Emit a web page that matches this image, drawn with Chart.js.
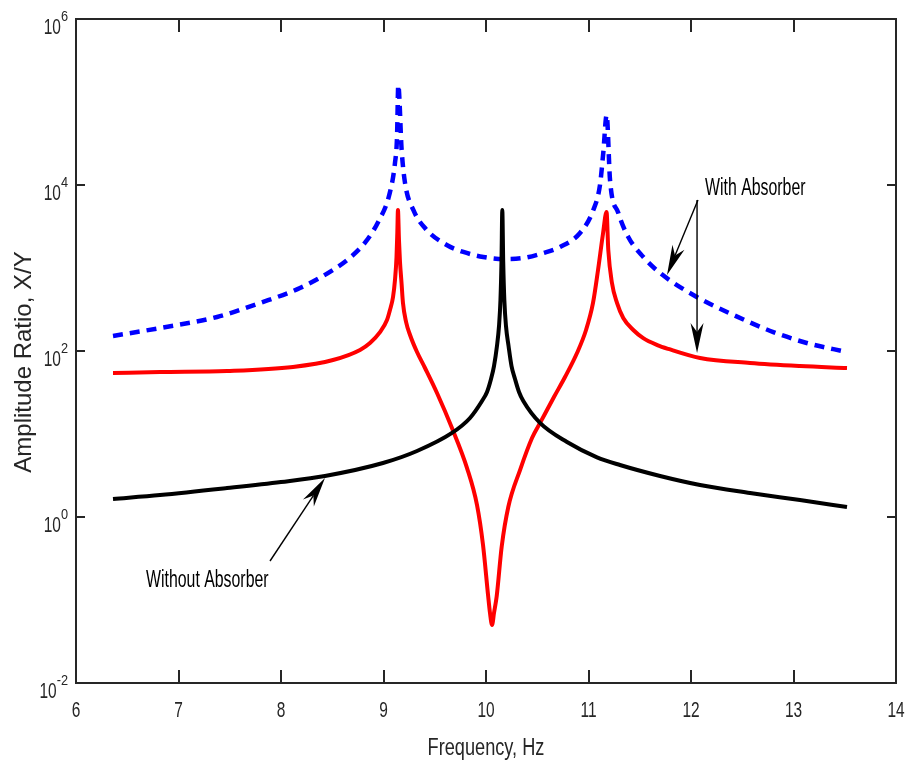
<!DOCTYPE html>
<html>
<head>
<meta charset="utf-8">
<title>Amplitude Ratio vs Frequency</title>
<script src="https://cdn.jsdelivr.net/npm/chart.js@4.4.1/dist/chart.umd.min.js"></script>
<style>
  html, body { margin: 0; padding: 0; background: #ffffff; }
  #wrap { width: 908px; height: 767px; }
</style>
</head>
<body>
<div id="wrap"><canvas id="chart" width="908" height="767"></canvas></div>
<script>
// Primary system alone (no absorber)
const blackFreq = [6.361, 6.820, 7.473, 8.000, 8.429, 8.995, 9.327, 9.668, 9.844, 9.961, 10.010, 10.049, 10.078, 10.107, 10.127, 10.141, 10.151, 10.159, 10.168, 10.179, 10.195, 10.220, 10.249, 10.283, 10.322, 10.364, 10.527, 10.790, 11.083, 11.307, 11.698, 12.088, 12.576, 13.063, 13.522];
const blackAmp  = [1.65, 1.84, 2.23, 2.64, 3.12, 4.47, 6.24, 10.3, 15.6, 25.0, 32.1, 46.0, 65.9, 115, 200, 411, 1181, 5000, 1181, 411, 200, 115, 65.9, 46.0, 32.1, 25.0, 13.6, 8.01, 5.24, 4.23, 3.12, 2.43, 1.95, 1.60, 1.32];

// Primary mass with absorber attached
const redFreq = [6.361, 6.820, 7.473, 8.117, 8.507, 8.771, 8.868, 8.966, 9.034, 9.063, 9.093, 9.112, 9.127, 9.135, 9.141, 9.151, 9.161, 9.176, 9.190, 9.220, 9.259, 9.327, 9.405, 9.522, 9.668, 9.815, 9.912, 9.971, 10.020, 10.039, 10.059, 10.078, 10.104, 10.153, 10.218, 10.332, 10.449, 10.537, 10.663, 10.771, 10.888, 10.976, 11.044, 11.093, 11.141, 11.176, 11.193, 11.229, 11.278, 11.339, 11.437, 11.534, 11.671, 11.778, 12.088, 12.576, 13.063, 13.522];
const redAmp  = [54.3, 55.8, 57.4, 64.2, 77.9, 103, 125, 169, 236, 312, 448, 716, 1358, 2716, 5000, 2174, 1181, 659, 379, 224, 156, 97.2, 62.4, 31.2, 11.8, 3.89, 1.40, 0.460, 0.115, 0.0697, 0.050, 0.0697, 0.110, 0.439, 1.33, 3.68, 8.95, 14.3, 27.9, 48.6, 94.6, 179, 379, 946, 2570, 4730, 1650, 659, 379, 250, 179, 143, 118, 106, 82.4, 71.7, 65.9, 62.4];

// Absorber mass
const blueFreq = [6.361, 6.820, 7.376, 7.795, 8.185, 8.507, 8.673, 8.827, 8.949, 9.056, 9.112, 9.132, 9.144, 9.177, 9.210, 9.291, 9.422, 9.617, 9.779, 9.974, 10.169, 10.364, 10.559, 10.722, 10.917, 11.047, 11.112, 11.144, 11.177, 11.210, 11.291, 11.388, 11.535, 11.698, 12.056, 12.413, 12.803, 13.129, 13.519];
const blueAmp  = [152, 189, 257, 379, 574, 946, 1331, 2075, 3613, 7580, 18400, 37900, 160000, 26400, 10570, 5000, 2870, 1893, 1560, 1358, 1283, 1320, 1517, 1791, 2641, 5000, 10000, 24300, 69700, 11500, 4600, 2362, 1358, 871, 448, 272, 169, 125, 97.2];

// Axis ticks
const xTickValues = [6, 7, 8, 9, 10, 11, 12, 13, 14];
const yTickExponents = [-2, 0, 2, 4, 6];

// Annotation labels and arrows (data coordinates)
const noteLabels = [
  { text: 'With Absorber', x: 12.137, y: 7600 },
  { text: 'Without Absorber', x: 6.683, y: 0.1435 }
];
const noteArrows = [
  { from: [12.068, 6590], to: [11.766, 824] },
  { from: [12.059, 6590], to: [12.059, 94.6] },
  { from: [7.893, 0.295], to: [8.429, 2.95] }
];

const toPoints = (xs, ys) => xs.map((v, i) => ({ x: v, y: ys[i] }));

const FONT = '"Liberation Sans", Arial, Helvetica, sans-serif';
const AXIS_COLOR = '#262626';

// Draw horizontally condensed text; returns the drawn width
function drawText(ctx, str, x, y, size, k, align) {
  ctx.save();
  ctx.font = size + 'px ' + FONT;
  const w = ctx.measureText(str).width * k;
  const x0 = align === 'center' ? x - w / 2 : align === 'right' ? x - w : x;
  ctx.translate(x0, y);
  ctx.scale(k, 1);
  ctx.textAlign = 'left';
  ctx.textBaseline = 'alphabetic';
  ctx.fillText(str, 0, 0);
  ctx.restore();
  return w;
}

function measure(ctx, str, size, k) {
  ctx.save();
  ctx.font = size + 'px ' + FONT;
  const w = ctx.measureText(str).width * k;
  ctx.restore();
  return w;
}

function drawArrow(ctx, x1, y1, x2, y2) {
  const L = 30, W = 13, notch = 9;
  const dx = x2 - x1, dy = y2 - y1;
  const len = Math.hypot(dx, dy);
  const ux = dx / len, uy = dy / len;
  const nx = -uy, ny = ux;
  ctx.beginPath();
  ctx.moveTo(x1, y1);
  ctx.lineTo(x2 - ux * (L - notch), y2 - uy * (L - notch));
  ctx.stroke();
  ctx.beginPath();
  ctx.moveTo(x2, y2);
  ctx.lineTo(x2 - ux * L + nx * W / 2, y2 - uy * L + ny * W / 2);
  ctx.lineTo(x2 - ux * (L - notch), y2 - uy * (L - notch));
  ctx.lineTo(x2 - ux * L - nx * W / 2, y2 - uy * L - ny * W / 2);
  ctx.closePath();
  ctx.fill();
}

const framePlugin = {
  id: 'frame',
  afterDraw(chart) {
    const { ctx, chartArea: a, scales } = chart;
    const xs = scales.x, ys = scales.y;
    ctx.save();

    // Box
    ctx.strokeStyle = AXIS_COLOR;
    ctx.lineWidth = 2;
    ctx.strokeRect(a.left, a.top, a.right - a.left, a.bottom - a.top);

    // Inward tick marks
    ctx.beginPath();
    xTickValues.forEach(v => {
      const px = Math.round(xs.getPixelForValue(v));
      ctx.moveTo(px, a.bottom); ctx.lineTo(px, a.bottom - 13);
      ctx.moveTo(px, a.top); ctx.lineTo(px, a.top + 13);
    });
    yTickExponents.forEach(e => {
      const py = Math.round(ys.getPixelForValue(Math.pow(10, e)));
      ctx.moveTo(a.left, py); ctx.lineTo(a.left + 9, py);
      ctx.moveTo(a.right, py); ctx.lineTo(a.right - 9, py);
    });
    ctx.stroke();

    // X tick labels
    ctx.fillStyle = AXIS_COLOR;
    xTickValues.forEach(v => {
      const px = xs.getPixelForValue(v);
      drawText(ctx, String(v), px, a.bottom + 34, 21.5, 0.72, 'center');
    });

    // Y tick labels: 10 with raised exponent
    yTickExponents.forEach(e => {
      const py = ys.getPixelForValue(Math.pow(10, e));
      const expStr = e < 0 ? '-' + Math.abs(e) : String(e);
      const expW = measure(ctx, expStr, 15, 0.85);
      const right = a.left - 8;
      drawText(ctx, expStr, right - expW, py + 2, 15, 0.85, 'left');
      drawText(ctx, '10', right - expW, py + 15, 21.5, 0.72, 'right');
    });

    // Axis titles
    drawText(ctx, 'Frequency, Hz', (a.left + a.right) / 2, a.bottom + 72, 23, 0.79, 'center');
    ctx.save();
    ctx.translate(31, 362);
    ctx.rotate(-Math.PI / 2);
    ctx.font = '24px ' + FONT;
    ctx.textAlign = 'center';
    ctx.textBaseline = 'alphabetic';
    ctx.fillText('Amplitude Ratio, X/Y', 0, 0);
    ctx.restore();

    // Annotations
    ctx.fillStyle = '#000000';
    ctx.strokeStyle = '#000000';
    ctx.lineWidth = 1.4;
    noteArrows.forEach(ar => {
      drawArrow(ctx,
        xs.getPixelForValue(ar.from[0]), ys.getPixelForValue(ar.from[1]),
        xs.getPixelForValue(ar.to[0]), ys.getPixelForValue(ar.to[1]));
    });
    noteLabels.forEach(n => {
      drawText(ctx, n.text, xs.getPixelForValue(n.x), ys.getPixelForValue(n.y), 23.5, 0.675, 'left');
    });

    ctx.restore();
  }
};

new Chart(document.getElementById('chart'), {
  type: 'line',
  data: {
    datasets: [
      {
        data: toPoints(blackFreq, blackAmp),
        borderColor: '#000000',
        borderWidth: 4,
        order: 0
      },
      {
        data: toPoints(redFreq, redAmp),
        borderColor: '#ff0000',
        borderWidth: 4,
        order: 1
      },
      {
        data: toPoints(blueFreq, blueAmp),
        borderColor: '#0000ff',
        borderWidth: 4.5,
        borderDash: [10, 7],
        order: 2
      }
    ]
  },
  options: {
    responsive: false,
    maintainAspectRatio: false,
    animation: false,
    layout: { padding: { top: 19, right: 12, left: 0, bottom: 0 } },
    elements: {
      point: { radius: 0, hoverRadius: 0 },
      line: { fill: false, cubicInterpolationMode: 'monotone', borderCapStyle: 'butt', borderJoinStyle: 'round' }
    },
    plugins: { legend: { display: false }, tooltip: { enabled: false } },
    scales: {
      x: {
        type: 'linear', min: 6, max: 14,
        ticks: { display: false },
        grid: { display: false },
        border: { display: false },
        afterFit(s) { s.height = 84; }
      },
      y: {
        type: 'logarithmic', min: 0.01, max: 1e6,
        ticks: { display: false },
        grid: { display: false },
        border: { display: false },
        afterFit(s) { s.width = 76; }
      }
    }
  },
  plugins: [framePlugin]
});
</script>
</body>
</html>
